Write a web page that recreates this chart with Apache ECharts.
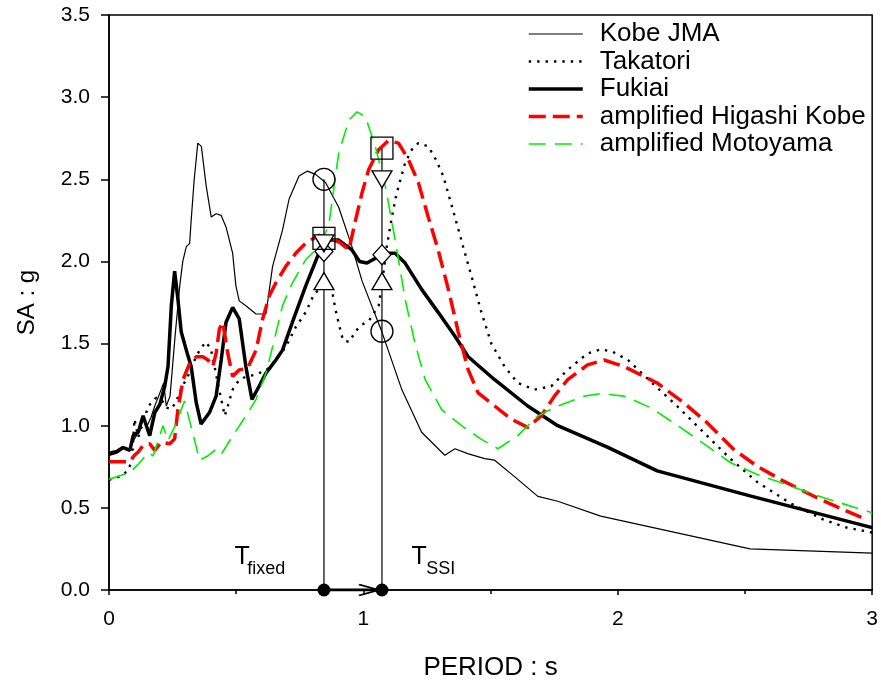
<!DOCTYPE html>
<html>
<head>
<meta charset="utf-8">
<script src="https://cdn.jsdelivr.net/npm/echarts/dist/echarts.min.js"></script>
<style>
  html, body { margin: 0; padding: 0; background: #fff; }
  #chart { width: 881px; height: 686px; }
</style>
</head>
<body>
<div id="chart"></div>
<script>
// spectra: [period s, SA g]
const kobeJMA = [[0,0.84],[0.03,0.85],[0.05,0.87],[0.08,0.86],[0.1,0.92],[0.12,0.97],[0.135,1.05],[0.15,1.0],[0.165,1.05],[0.18,1.12],[0.2,1.2],[0.215,1.26],[0.225,1.12],[0.24,1.18],[0.26,1.55],[0.278,1.85],[0.29,2.0],[0.304,2.09],[0.317,2.11],[0.323,2.25],[0.335,2.5],[0.349,2.72],[0.363,2.7],[0.382,2.46],[0.402,2.27],[0.421,2.29],[0.441,2.28],[0.46,2.21],[0.486,2.05],[0.499,1.85],[0.512,1.76],[0.538,1.73],[0.578,1.68],[0.617,1.68],[0.643,1.97],[0.682,2.19],[0.708,2.38],[0.747,2.52],[0.78,2.55],[0.812,2.53],[0.851,2.48],[0.903,2.33],[0.955,2.09],[0.995,1.88],[1.073,1.57],[1.151,1.22],[1.229,0.96],[1.32,0.82],[1.36,0.86],[1.41,0.83],[1.477,0.8],[1.516,0.79],[1.594,0.69],[1.686,0.57],[1.764,0.54],[1.933,0.45],[2.52,0.25],[3.0,0.225]]
const takatori = [[0,0.67],[0.04,0.69],[0.07,0.72],[0.09,0.78],[0.1,1.04],[0.115,0.93],[0.13,1.0],[0.155,1.12],[0.185,1.17],[0.21,1.15],[0.225,1.11],[0.245,1.1],[0.265,1.15],[0.285,1.23],[0.31,1.3],[0.33,1.38],[0.356,1.46],[0.38,1.51],[0.4,1.47],[0.415,1.36],[0.43,1.24],[0.447,1.12],[0.455,1.06],[0.467,1.12],[0.486,1.22],[0.512,1.28],[0.54,1.3],[0.575,1.31],[0.62,1.34],[0.656,1.4],[0.695,1.48],[0.734,1.6],[0.773,1.69],[0.806,1.8],[0.845,1.86],[0.877,1.82],[0.89,1.71],[0.905,1.61],[0.92,1.52],[0.945,1.51],[0.969,1.575],[0.995,1.616],[1.021,1.636],[1.06,1.73],[1.073,1.86],[1.092,2.09],[1.112,2.27],[1.13,2.41],[1.164,2.6],[1.19,2.68],[1.216,2.72],[1.255,2.7],[1.285,2.62],[1.314,2.52],[1.36,2.27],[1.392,2.09],[1.425,1.91],[1.464,1.69],[1.503,1.5],[1.555,1.36],[1.607,1.26],[1.673,1.22],[1.738,1.24],[1.803,1.34],[1.881,1.44],[1.933,1.465],[1.98,1.45],[2.04,1.4],[2.135,1.26],[2.233,1.12],[2.337,0.96],[2.442,0.8],[2.546,0.66],[2.676,0.53],[2.807,0.43],[2.9,0.38],[3.0,0.35]]
const fukiai = [[0,0.826],[0.03,0.84],[0.056,0.867],[0.082,0.85],[0.095,0.94],[0.115,0.96],[0.134,1.06],[0.147,1.0],[0.16,0.94],[0.18,1.08],[0.2,1.13],[0.219,1.24],[0.232,1.36],[0.245,1.73],[0.258,1.94],[0.271,1.77],[0.284,1.57],[0.304,1.46],[0.323,1.36],[0.343,1.14],[0.362,1.01],[0.395,1.08],[0.421,1.18],[0.441,1.4],[0.46,1.63],[0.486,1.72],[0.512,1.65],[0.538,1.36],[0.562,1.16],[0.59,1.24],[0.617,1.32],[0.656,1.4],[0.682,1.46],[0.721,1.63],[0.773,1.85],[0.825,2.05],[0.864,2.13],[0.903,2.13],[0.955,2.07],[0.985,2.0],[1.014,1.99],[1.06,2.03],[1.1,2.05],[1.125,2.05],[1.164,1.99],[1.229,1.83],[1.294,1.69],[1.36,1.545],[1.412,1.42],[1.516,1.28],[1.646,1.12],[1.764,1.0],[1.959,0.87],[2.155,0.725],[2.52,0.573],[3.0,0.38]]
const higashiKobe = [[0,0.78],[0.082,0.78],[0.1,0.82],[0.115,0.84],[0.134,0.88],[0.16,0.89],[0.18,0.85],[0.206,0.9],[0.239,0.89],[0.258,0.92],[0.271,1.1],[0.291,1.28],[0.317,1.38],[0.343,1.42],[0.369,1.42],[0.389,1.4],[0.408,1.36],[0.421,1.44],[0.434,1.59],[0.447,1.63],[0.467,1.44],[0.486,1.3],[0.512,1.34],[0.545,1.35],[0.578,1.46],[0.604,1.65],[0.63,1.79],[0.656,1.87],[0.695,1.97],[0.734,2.05],[0.773,2.11],[0.825,2.16],[0.864,2.14],[0.903,2.12],[0.943,2.07],[0.969,2.25],[0.995,2.42],[1.021,2.56],[1.06,2.68],[1.099,2.736],[1.138,2.72],[1.177,2.62],[1.216,2.48],[1.255,2.27],[1.294,2.07],[1.334,1.83],[1.373,1.57],[1.412,1.34],[1.451,1.2],[1.516,1.12],[1.581,1.04],[1.646,0.99],[1.699,1.06],[1.751,1.18],[1.803,1.28],[1.881,1.37],[1.946,1.4],[2.025,1.36],[2.155,1.26],[2.259,1.14],[2.35,1.02],[2.455,0.857],[2.546,0.755],[2.65,0.664],[2.781,0.563],[2.885,0.49],[2.976,0.43]]
const motoyama = [[0,0.674],[0.082,0.715],[0.121,0.776],[0.154,0.836],[0.173,0.816],[0.2,0.94],[0.212,1.0],[0.232,0.91],[0.26,1.0],[0.297,1.15],[0.33,0.95],[0.356,0.79],[0.388,0.816],[0.421,0.857],[0.441,0.826],[0.486,0.937],[0.538,1.06],[0.578,1.16],[0.617,1.32],[0.643,1.48],[0.682,1.73],[0.721,1.87],[0.773,2.01],[0.825,2.09],[0.864,2.22],[0.903,2.66],[0.943,2.86],[0.975,2.91],[1.008,2.88],[1.047,2.7],[1.086,2.46],[1.125,2.13],[1.164,1.77],[1.203,1.5],[1.243,1.28],[1.307,1.1],[1.386,1.0],[1.464,0.917],[1.529,0.86],[1.607,0.94],[1.686,1.06],[1.764,1.12],[1.868,1.18],[1.933,1.195],[2.025,1.18],[2.129,1.11],[2.246,0.99],[2.35,0.877],[2.442,0.776],[2.546,0.705],[2.676,0.634],[2.807,0.563],[3.0,0.47]]

// T fixed and T SSI, with each record's SA at those periods
const periods = [0.845, 1.073]
const kobeAtT = [2.50, 1.575]
const takatoriAtT = [1.88, 1.88]
const fukiaiAtT = [2.06, 2.04]
const higashiAtT = [2.14, 2.69]
const motoyamaAtT = [2.11, 2.50]

const yTicks = [0, 0.5, 1, 1.5, 2, 2.5, 3, 3.5]

const FONT = '"Liberation Sans", Arial, sans-serif'

const chart = echarts.init(document.getElementById('chart'))

function curve(name, data, color, width, type) {
  return {
    type: 'line', name: name, data: data, symbol: 'none', silent: true, z: 3,
    lineStyle: { color: color, width: width, type: type },
    itemStyle: { color: color }
  }
}

function marker(vals, symbol, size, fill, rotate) {
  return {
    type: 'scatter', silent: true, z: 6,
    data: periods.map((p, i) => [p, vals[i]]),
    symbol: symbol, symbolSize: size, symbolRotate: rotate || 0,
    itemStyle: { color: fill, borderColor: '#000', borderWidth: 1.3, opacity: 1 }
  }
}

// vertical guide lines from 0 up to the highest marker
const guides = periods.map((p, i) => ({
  type: 'line', silent: true, symbol: 'none', z: 4,
  data: [[p, 0], [p, Math.max(kobeAtT[i], takatoriAtT[i], fukiaiAtT[i], higashiAtT[i], motoyamaAtT[i])]],
  lineStyle: { color: '#000', width: 1.2 }
}))

function note(text, x, y, size) {
  return { value: [x, y], label: { formatter: text, fontSize: size } }
}

chart.setOption({
  animation: false,
  backgroundColor: '#fff',
  textStyle: { fontFamily: FONT, color: '#000' },
  grid: {
    left: 109, right: 5, top: 15, bottom: 95,
    show: true, borderColor: '#000', borderWidth: 1.5
  },
  legend: {
    data: ['Kobe JMA', 'Takatori', 'Fukiai', 'amplified Higashi Kobe', 'amplified Motoyama'],
    orient: 'vertical',
    left: 527, top: 21,
    padding: 0,
    itemWidth: 54, itemHeight: 14, itemGap: 1.5,
    itemStyle: { opacity: 0 },
    lineStyle: { width: 'inherit' },
    textStyle: { fontFamily: FONT, fontSize: 26, color: '#000', lineHeight: 26, padding: [0, 0, 0, 12] }
  },
  xAxis: {
    type: 'value', min: 0, max: 3, interval: 1,
    name: 'PERIOD : s', nameLocation: 'middle', nameGap: 65,
    nameTextStyle: { fontFamily: FONT, fontSize: 26, color: '#000' },
    axisLine: { lineStyle: { color: '#000', width: 1.5 } },
    axisTick: { length: 5, lineStyle: { color: '#000', width: 1.5 } },
    minorTick: { show: true, splitNumber: 2, length: 4, lineStyle: { color: '#000', width: 1.5 } },
    axisLabel: { fontFamily: FONT, fontSize: 21, color: '#000', margin: 19 },
    splitLine: { show: false }
  },
  yAxis: {
    type: 'value', min: yTicks[0], max: yTicks[yTicks.length - 1], interval: 0.5,
    name: 'SA : g', nameLocation: 'middle', nameGap: 70, nameRotate: 90,
    nameTextStyle: { fontFamily: FONT, fontSize: 24, color: '#000' },
    axisLine: { show: true, lineStyle: { color: '#000', width: 1.5 } },
    axisTick: { show: true, length: 8, lineStyle: { color: '#000', width: 1.5 } },
    axisLabel: { fontFamily: FONT, fontSize: 21, color: '#000', margin: 19, formatter: v => v.toFixed(1) },
    splitLine: { show: false }
  },
  series: [
    curve('Kobe JMA', kobeJMA, '#000', 1.2, 'solid'),
    curve('Takatori', takatori, '#000', 2.4, [2.4, 6]),
    curve('Fukiai', fukiai, '#000', 3.5, 'solid'),
    curve('amplified Higashi Kobe', higashiKobe, '#ff0000', 3.5, [17, 7]),
    curve('amplified Motoyama', motoyama, '#00ee00', 1.6, [17, 9]),
    ...guides,
    marker(takatoriAtT, 'triangle', [20, 17], '#fff'),
    marker(fukiaiAtT, 'diamond', [18, 20], '#fff'),
    marker(motoyamaAtT, 'triangle', [20, 17], '#fff', 180),
    marker(higashiAtT, 'rect', [22, 22], 'rgba(0,0,0,0)'),
    marker(kobeAtT, 'circle', 22, 'rgba(0,0,0,0)'),
    // shift arrow along the period axis
    {
      type: 'line', silent: true, symbol: 'none', z: 5,
      data: periods.map(p => [p, 0]),
      lineStyle: { color: '#000', width: 3 }
    },
    {
      type: 'scatter', silent: true, z: 6,
      data: [[periods[1], 0]],
      symbol: 'path://M0,0L20,6L0,12', symbolSize: [20, 11], symbolOffset: [-13, 0],
      itemStyle: { color: 'none', borderColor: '#000', borderWidth: 2, opacity: 1 }
    },
    {
      type: 'scatter', silent: true, z: 7,
      data: periods.map(p => [p, 0]),
      symbol: 'circle', symbolSize: 13,
      itemStyle: { color: '#000', opacity: 1 }
    },
    // T labels
    {
      type: 'scatter', silent: true, z: 8, symbolSize: 0,
      itemStyle: { opacity: 1 },
      label: { show: true, position: 'right', distance: 0, color: '#000', fontFamily: FONT },
      data: [
        note('T', 0.493, 0.20, 25),
        note('fixed', 0.543, 0.13, 18),
        note('T', 1.189, 0.20, 25),
        note('SSI', 1.247, 0.13, 18)
      ]
    }
  ]
})
</script>
</body>
</html>
